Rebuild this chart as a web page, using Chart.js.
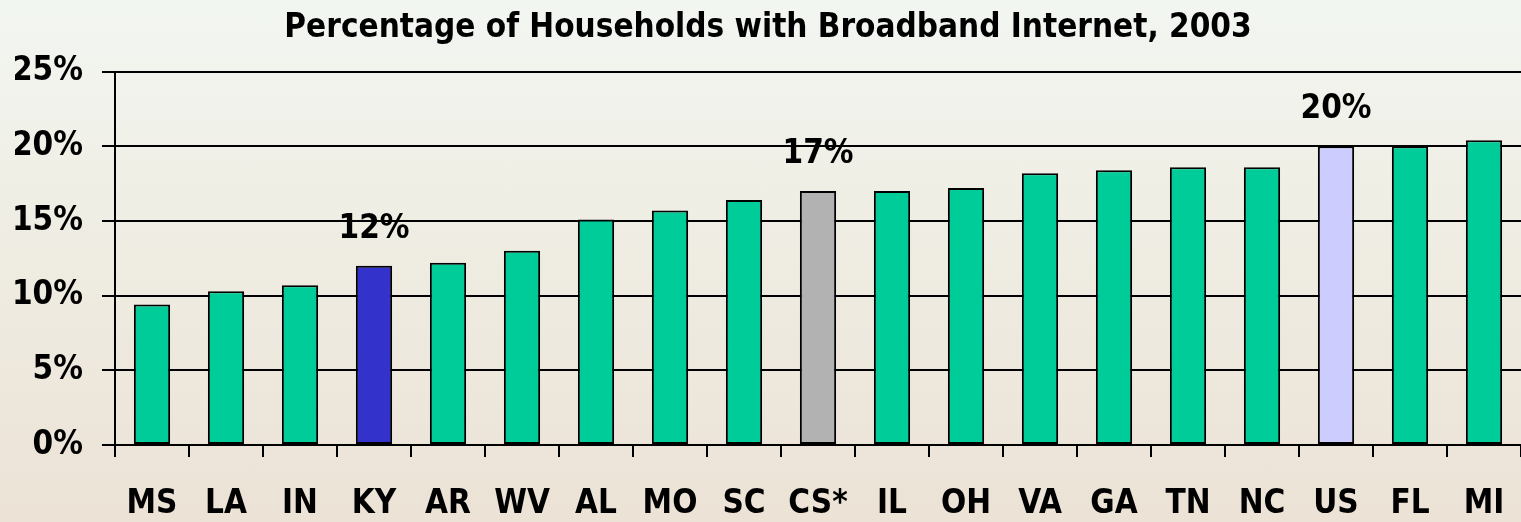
<!DOCTYPE html>
<html>
<head>
<meta charset="utf-8">
<script src="https://cdn.jsdelivr.net/npm/chart.js@4.4.0/dist/chart.umd.min.js"></script>
<style>
  html, body { margin: 0; padding: 0; }
  body {
    width: 1521px; height: 522px; overflow: hidden;
    background: linear-gradient(to bottom, #f2f6f1 0%, #efede3 45%, #ece2d6 100%);
  }
  canvas { display: block; }
</style>
</head>
<body>
<canvas id="bbChart" width="1521" height="522"></canvas>
<script>
// states, 2003 broadband share (%)
const states = ['MS', 'LA', 'IN', 'KY', 'AR', 'WV', 'AL', 'MO', 'SC', 'CS*', 'IL', 'OH', 'VA', 'GA', 'TN', 'NC', 'US', 'FL', 'MI'];
const broadband = [9.4, 10.3, 10.7, 12.0, 12.2, 13.0, 15.1, 15.7, 16.4, 17.0, 17.0, 17.2, 18.2, 18.4, 18.6, 18.6, 20.0, 20.0, 20.4];
const barColors = ['#00cc99', '#00cc99', '#00cc99', '#3333cc', '#00cc99', '#00cc99', '#00cc99', '#00cc99', '#00cc99', '#b2b2b2',
                   '#00cc99', '#00cc99', '#00cc99', '#00cc99', '#00cc99', '#00cc99', '#ccccff', '#00cc99', '#00cc99'];
// only a few bars get a label on top
const callouts = { 'KY': '12%', 'CS*': '17%', 'US': '20%' };
const yTicks = [0, 5, 10, 15, 20, 25];

const FONT = '"Liberation Sans Narrow", "Arial Narrow", "DejaVu Sans Condensed", sans-serif';

// draws the callout text above the chosen bars
const calloutPlugin = {
    id: 'callouts',
    afterDatasetsDraw(chart) {
        const ctx = chart.ctx;
        const meta = chart.getDatasetMeta(0);
        ctx.save();
        ctx.font = 'bold 33px ' + FONT;
        ctx.fillStyle = '#000';
        ctx.textAlign = 'center';
        ctx.textBaseline = 'alphabetic';
        states.forEach((s, i) => {
            if (callouts[s]) {
                const bar = meta.data[i];
                ctx.fillText(callouts[s], bar.x, bar.y - 28);
            }
        });
        ctx.restore();
    }
};

const ctx = document.getElementById('bbChart').getContext('2d');
const bbChart = new Chart(ctx, {
    type: 'bar',
    data: {
        labels: states,
        datasets: [{
            data: broadband,
            backgroundColor: barColors,
            borderColor: '#000',
            borderWidth: 2,
            borderSkipped: false,
            barPercentage: 0.49,
            categoryPercentage: 1.0
        }]
    },
    options: {
        responsive: false,
        animation: false,
        layout: { padding: { left: 15, right: 0, top: 0, bottom: 0 } },
        plugins: {
            legend: { display: false },
            tooltip: { enabled: false },
            title: {
                display: true,
                text: 'Percentage of Households with Broadband Internet, 2003',
                color: '#000',
                font: { family: FONT, size: 33, weight: 'bold' },
                padding: { top: 9, bottom: 23 }
            }
        },
        scales: {
            x: {
                offset: true,
                border: { display: true, color: '#000', width: 2 },
                grid: { display: true, offset: true, drawOnChartArea: false, drawTicks: true, tickLength: 12, color: '#000', lineWidth: 2 },
                ticks: { color: '#000', padding: 28, maxRotation: 0, autoSkip: false, font: { family: FONT, size: 33, weight: 'bold' } },
                // let the plot run to the right edge like the original
                afterFit: scale => { scale.paddingRight = 0; scale.paddingLeft = 0; scale.height = 77; }
            },
            y: {
                min: 0,
                max: 25,
                afterBuildTicks: axis => { axis.ticks = yTicks.map(v => ({ value: v })); },
                border: { display: true, color: '#000', width: 2 },
                grid: { color: '#000', lineWidth: 2, drawTicks: true, tickLength: 13 },
                ticks: { color: '#000', padding: 19, font: { family: FONT, size: 33, weight: 'bold' }, callback: v => v + '%' },
                afterFit: scale => { scale.width = 100; }
            }
        }
    },
    plugins: [calloutPlugin]
});
</script>
</body>
</html>
